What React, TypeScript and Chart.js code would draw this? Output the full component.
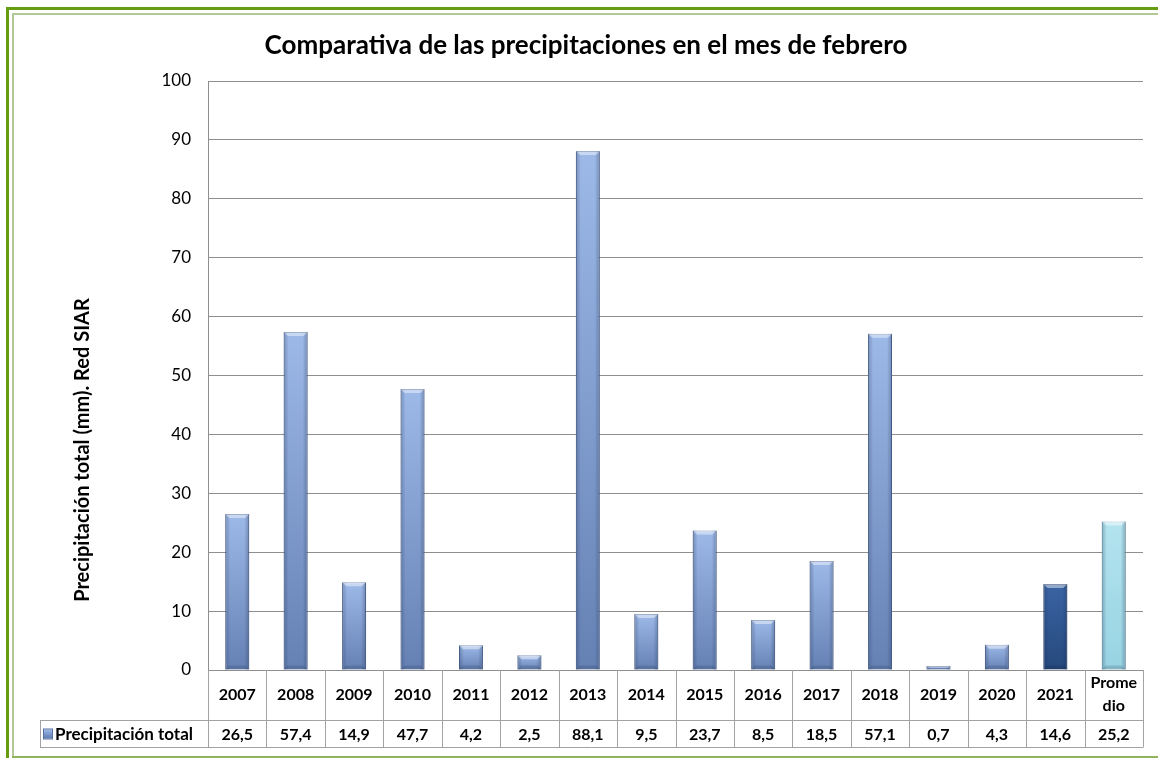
import React, { useEffect, useRef } from "react";
import { Chart, registerables } from "chart.js";

Chart.register(...registerables);

const chartTitle = "Comparativa de las precipitaciones en el mes de febrero";
const yAxisTitle = "Precipitación total (mm). Red SIAR";
const seriesName = "Precipitación total";
const categories = ["2007", "2008", "2009", "2010", "2011", "2012", "2013", "2014", "2015", "2016", "2017", "2018", "2019", "2020", "2021", "Promedio"];
const categoryLines = [["2007"], ["2008"], ["2009"], ["2010"], ["2011"], ["2012"], ["2013"], ["2014"], ["2015"], ["2016"], ["2017"], ["2018"], ["2019"], ["2020"], ["2021"], ["Prome", "dio"]];
const values = [26.5, 57.4, 14.9, 47.7, 4.2, 2.5, 88.1, 9.5, 23.7, 8.5, 18.5, 57.1, 0.7, 4.3, 14.6, 25.2];
const yMin = 0;
const yMax = 100;
const yStep = 10;

const FONT = "Lato, 'Open Sans', sans-serif";

function barStyle(label: string) {
  if (label === "2021") return { top: "#3a64a3", bottom: "#26487c", border: "#1f3a66" };
  if (label === "Promedio") return { top: "#b3e4ef", bottom: "#98d3e2", border: "#74b4c6" };
  return { top: "#9db9e8", bottom: "#6581b4", border: "#56709f" };
}

function fmt(v: number) {
  return v.toFixed(1).replace(".", ",");
}

const framePlugin = {
  id: "frame",
  beforeDraw(chart: any) {
    const ctx = chart.ctx;
    const W = chart.width;
    const H = chart.height;
    ctx.save();
    ctx.fillStyle = "#ffffff";
    ctx.fillRect(0, 0, W, H);
    ctx.fillStyle = "#669c10";
    ctx.fillRect(6, 7, W - 6, 3);
    ctx.fillRect(6, 7, 3, H - 7);
    ctx.fillStyle = "#b2c896";
    ctx.fillRect(12, 13, W - 12, 2);
    ctx.fillRect(12, 13, 2, H - 13 - 2);
    ctx.fillStyle = "#8fb45c";
    ctx.fillRect(12, H - 2, W - 12, 2);
    ctx.restore();
  },
};

const textPlugin = {
  id: "texts",
  afterDraw(chart: any) {
    const ctx = chart.ctx;
    ctx.save();
    ctx.fillStyle = "#000";
    ctx.font = `bold 26px ${FONT}`;
    ctx.textAlign = "center";
    ctx.textBaseline = "alphabetic";
    ctx.fillText(chartTitle, 586, 54);

    ctx.translate(89, 450);
    ctx.rotate(-Math.PI / 2);
    ctx.font = `bold 20px ${FONT}`;
    ctx.textAlign = "center";
    ctx.textBaseline = "alphabetic";
    ctx.fillText(yAxisTitle, 0, 0);
    ctx.restore();
  },
};

const bevelPlugin = {
  id: "bevel",
  afterDatasetsDraw(chart: any) {
    const ctx = chart.ctx;
    const meta = chart.getDatasetMeta(0);
    ctx.save();
    meta.data.forEach((el: any) => {
      const w = el.width;
      const l = el.x - w / 2;
      const r = el.x + w / 2;
      const t = Math.min(el.y, el.base);
      const b = Math.max(el.y, el.base);
      const h = b - t;
      const bev = Math.min(4, h / 2);
      let g = ctx.createLinearGradient(l, 0, l + 5, 0);
      g.addColorStop(0, "rgba(20,35,70,0.28)");
      g.addColorStop(1, "rgba(20,35,70,0)");
      ctx.fillStyle = g;
      ctx.fillRect(l, t, 5, h);
      g = ctx.createLinearGradient(r, 0, r - 5, 0);
      g.addColorStop(0, "rgba(20,35,70,0.3)");
      g.addColorStop(1, "rgba(20,35,70,0)");
      ctx.fillStyle = g;
      ctx.fillRect(r - 5, t, 5, h);
      ctx.fillStyle = "rgba(255,255,255,0.45)";
      ctx.beginPath();
      ctx.moveTo(l, t);
      ctx.lineTo(r, t);
      ctx.lineTo(r - bev, t + bev);
      ctx.lineTo(l + bev, t + bev);
      ctx.closePath();
      ctx.fill();
      ctx.fillStyle = "rgba(10,20,50,0.15)";
      ctx.beginPath();
      ctx.moveTo(l, b);
      ctx.lineTo(r, b);
      ctx.lineTo(r - bev, b - bev);
      ctx.lineTo(l + bev, b - bev);
      ctx.closePath();
      ctx.fill();
    });
    ctx.restore();
  },
};

const tablePlugin = {
  id: "dataTable",
  afterDraw(chart: any) {
    const ctx = chart.ctx;
    const xs = chart.scales.x;
    const area = chart.chartArea;
    const n = categories.length;
    const colW = (area.right - area.left) / n;
    const top = area.bottom;
    const mid = top + 50;
    const bot = top + 77;
    const legendLeft = 40;
    ctx.save();
    ctx.strokeStyle = "#a3a3a3";
    ctx.lineWidth = 1;
    ctx.beginPath();
    for (let i = 0; i <= n; i++) {
      const x = Math.round(area.left + i * colW) + 0.5;
      ctx.moveTo(x, top);
      ctx.lineTo(x, bot);
    }
    ctx.moveTo(legendLeft + 0.5, mid);
    ctx.lineTo(legendLeft + 0.5, bot);
    ctx.moveTo(legendLeft, mid + 0.5);
    ctx.lineTo(area.right + 0.5, mid + 0.5);
    ctx.moveTo(legendLeft, bot + 0.5);
    ctx.lineTo(area.right + 0.5, bot + 0.5);
    ctx.stroke();

    ctx.fillStyle = "#000";
    ctx.font = `bold 16px ${FONT}`;
    ctx.textAlign = "center";
    ctx.textBaseline = "middle";
    categories.forEach((c, i) => {
      const cx = xs.getPixelForValue(i);
      const lines = categoryLines[i];
      if (lines.length === 1) {
        ctx.fillText(lines[0], cx, (top + mid) / 2);
      } else {
        ctx.fillText(lines[0], cx, top + 13);
        ctx.fillText(lines[1], cx, top + 36);
      }
      ctx.fillText(fmt(values[i]), cx, (mid + bot) / 2 + 1);
    });

    const ky = (mid + bot) / 2 - 4;
    const g = ctx.createLinearGradient(0, ky, 0, ky + 9);
    g.addColorStop(0, "#9db9e8");
    g.addColorStop(1, "#5f7bb0");
    ctx.fillStyle = g;
    ctx.fillRect(44, ky, 8, 9);
    ctx.strokeStyle = "#56709f";
    ctx.strokeRect(43.5, ky - 0.5, 9, 10);
    ctx.fillStyle = "#000";
    ctx.textAlign = "left";
    ctx.font = `bold 17px ${FONT}`;
    ctx.fillText(seriesName, 55, (mid + bot) / 2 + 1);
    ctx.restore();
  },
};

export default function App() {
  const ref = useRef<HTMLCanvasElement | null>(null);
  useEffect(() => {
    if (!ref.current) return;
    const chart = new Chart(ref.current, {
      type: "bar",
      data: {
        labels: categories,
        datasets: [
          {
            label: seriesName,
            data: values,
            backgroundColor: (c: any) => {
              const chart = c.chart;
              const st = barStyle(categories[c.dataIndex]);
              if (!chart.chartArea) return st.top;
              const y = chart.scales.y;
              const t = y.getPixelForValue(values[c.dataIndex]);
              const b = y.getPixelForValue(0);
              const g = chart.ctx.createLinearGradient(0, t, 0, b + 0.01);
              g.addColorStop(0, st.top);
              g.addColorStop(1, st.bottom);
              return g;
            },
            borderColor: (c: any) => barStyle(categories[c.dataIndex]).border,
            borderWidth: 1,
            barPercentage: 0.41,
            categoryPercentage: 1,
          },
        ],
      },
      options: {
        animation: false,
        responsive: false,
        devicePixelRatio: 1,
        layout: { padding: { top: 81, bottom: 88, left: 0, right: 15 } },
        plugins: { legend: { display: false }, tooltip: { enabled: false }, title: { display: false } },
        scales: {
          x: { display: false },
          y: {
            min: yMin,
            max: yMax,
            afterFit: (s: any) => {
              s.width = 208;
            },
            ticks: { stepSize: yStep, color: "#000", padding: 17, font: { family: FONT, size: 17 } },
            grid: { color: "#8e8e8e", drawTicks: false, lineWidth: 1 },
            border: { display: true, color: "#8e8e8e" },
          },
        },
      },
      plugins: [framePlugin, bevelPlugin, tablePlugin, textPlugin],
    });
    return () => chart.destroy();
  }, []);
  return (
    <div style={{ position: "fixed", left: 0, top: 0, width: 1158, height: 758, background: "#fff" }}>
      <canvas ref={ref} width={1158} height={758} style={{ width: 1158, height: 758, display: "block" }} />
    </div>
  );
}
